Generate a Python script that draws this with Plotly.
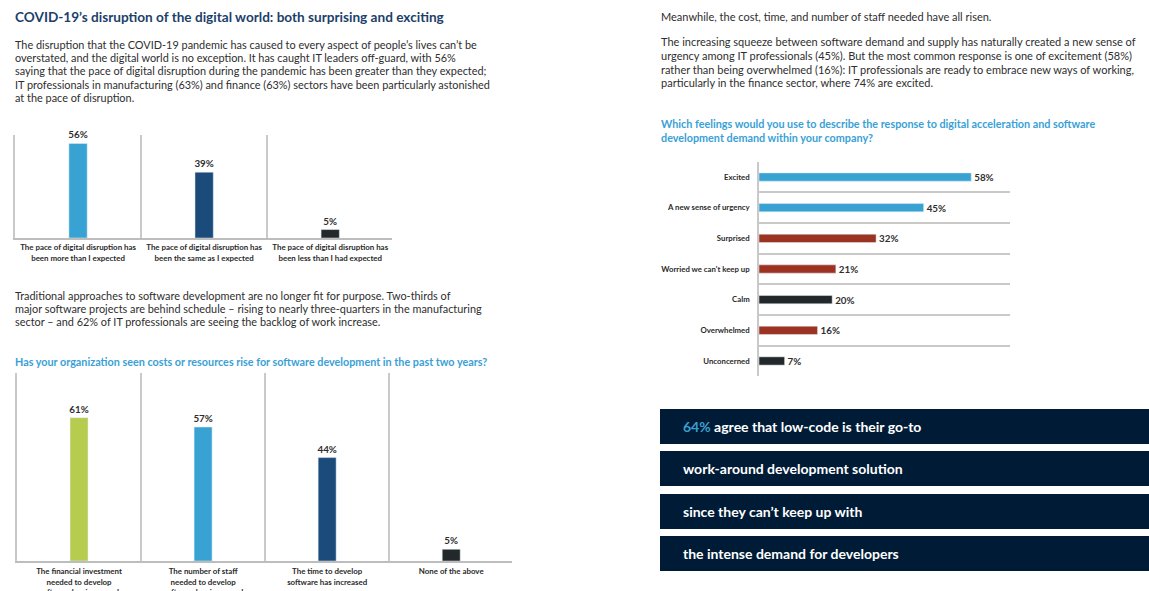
import plotly.graph_objects as go

W, H = 1149, 591
def X(px): return px / W
def Y(py): return 1 - py / H

# ---------- data ----------
pace_labels = ["The pace of digital disruption has<br>been more than I expected",
               "The pace of digital disruption has<br>been the same as I expected",
               "The pace of digital disruption has<br>been less than I had expected"]
pace_values = [56, 39, 5]
pace_colors = ["#38A3D3", "#1A4B7A", "#23282B"]

cost_labels = ["The financial investment<br>needed to develop<br>software has increased",
               "The number of staff<br>needed to develop<br>software has increased",
               "The time to develop<br>software has increased",
               "None of the above"]
cost_values = [61, 57, 44, 5]
cost_colors = ["#B6CC4E", "#38A3D3", "#1A4B7A", "#23282B"]

feel_labels = ["Excited", "A new sense of urgency", "Surprised", "Worried we can't keep up",
               "Calm", "Overwhelmed", "Unconcerned"]
feel_values = [58, 45, 32, 21, 20, 16, 7]
feel_colors = ["#38A3D3", "#38A3D3", "#9B3222", "#9B3222", "#23282B", "#9B3222", "#23282B"]

FONT = "Lato"
TXT = "#2E2E2E"
GRID = "#C9C9C9"

fig = go.Figure()

fig.add_trace(go.Bar(x=pace_labels, y=pace_values, marker_color=pace_colors, width=0.145,
                     text=[f"{v}%" for v in pace_values], textposition="outside",
                     constraintext="none",
                     textfont=dict(family=FONT, size=9.8, color=TXT, weight=700),
                     cliponaxis=False, xaxis="x", yaxis="y", hoverinfo="skip"))
fig.add_trace(go.Bar(x=cost_labels, y=cost_values, marker_color=cost_colors, width=0.145,
                     text=[f"{v}%" for v in cost_values], textposition="outside",
                     constraintext="none",
                     textfont=dict(family=FONT, size=9.8, color=TXT, weight=700),
                     cliponaxis=False, xaxis="x2", yaxis="y2", hoverinfo="skip"))
fig.add_trace(go.Bar(y=feel_labels, x=feel_values, orientation="h", marker_color=feel_colors,
                     width=0.27, text=[f"{v}%" for v in feel_values], textposition="outside",
                     constraintext="none",
                     textfont=dict(family=FONT, size=9.8, color=TXT, weight=700),
                     cliponaxis=False, xaxis="x3", yaxis="y3", hoverinfo="skip"))

tickfont = dict(family=FONT, size=7.9, color="#2A2A2A", weight=700)

common_x = dict(type="category", tickson="boundaries", showgrid=True, gridcolor=GRID, gridwidth=1.5,
                ticks="", showline=True, linecolor="#BDBDBD", linewidth=2, tickfont=tickfont,
                fixedrange=True, automargin=False)
common_y = dict(showgrid=False, showticklabels=False, zeroline=False, showline=True,
                linecolor=GRID, linewidth=1.5, fixedrange=True, automargin=False)

fig.update_layout(
    width=W, height=H, margin=dict(l=0, r=0, t=0, b=0, autoexpand=False),
    paper_bgcolor="white", plot_bgcolor="white", showlegend=False,
    xaxis=dict(common_x, domain=[X(15), X(392)], range=[-0.5, 2.49], anchor="y",
               ticklabelstandoff=1),
    yaxis=dict(common_y, domain=[Y(238), Y(135)], range=[0, 61], anchor="x"),
    xaxis2=dict(common_x, domain=[X(17), X(512)], range=[-0.5, 3.49], anchor="y2",
                ticklabelstandoff=2),
    yaxis2=dict(common_y, domain=[Y(561), Y(373)], range=[0, 80], anchor="x2"),
    xaxis3=dict(domain=[X(759), X(1010)], range=[0, 68.6], anchor="y3", showgrid=False,
                showticklabels=False, zeroline=False, showline=False, fixedrange=True,
                automargin=False),
    yaxis3=dict(type="category", tickson="boundaries", domain=[Y(376), Y(162)],
                range=[6.49, -0.49], anchor="x3", showgrid=True, gridcolor=GRID, gridwidth=1.5,
                ticks="", showline=True, linecolor=GRID, linewidth=1.5,
                tickfont=dict(family=FONT, size=7.8, color="#2A2A2A", weight=700),
                ticklabelstandoff=6, fixedrange=True, automargin=False),
)

ann = []
def text_lines(lines, x, y0, dy, size, color, weight=400):
    for i, t in enumerate(lines):
        ann.append(dict(text=t, x=X(x), y=Y(y0 + i * dy), xref="paper", yref="paper",
                        xanchor="left", yanchor="middle", showarrow=False,
                        font=dict(family=FONT, size=size, color=color, weight=weight)))

text_lines(["COVID-19’s disruption of the digital world: both surprising and exciting"],
           13, 17, 0, 13.6, "#1C3F6B", 700)
text_lines(["The disruption that the COVID-19 pandemic has caused to every aspect of people’s lives can’t be",
            "overstated, and the digital world is no exception. It has caught IT leaders off-guard, with 56%",
            "saying that the pace of digital disruption during the pandemic has been greater than they expected;",
            "IT professionals in manufacturing (63%) and finance (63%) sectors have been particularly astonished",
            "at the pace of disruption."], 13, 44.5, 13.2, 10.9, TXT)
text_lines(["Traditional approaches to software development are no longer fit for purpose. Two-thirds of",
            "major software projects are behind schedule – rising to nearly three-quarters in the manufacturing",
            "sector – and 62% of IT professionals are seeing the backlog of work increase."],
           13, 295, 13.3, 10.9, TXT)
text_lines(["Has your organization seen costs or resources rise for software development in the past two years?"],
           13, 361, 0, 10.8, "#3A9FD6", 700)
text_lines(["Meanwhile, the cost, time, and number of staff needed have all risen."],
           659, 16, 0, 11, TXT)
text_lines(["The increasing squeeze between software demand and supply has naturally created a new sense of",
            "urgency among IT professionals (45%). But the most common response is one of excitement (58%)",
            "rather than being overwhelmed (16%): IT professionals are ready to embrace new ways of working,",
            "particularly in the finance sector, where 74% are excited."],
           659, 42, 13.5, 11, TXT)
text_lines(["Which feelings would you use to describe the response to digital acceleration and software",
            "development demand within your company?"], 659, 123.5, 13.7, 10.8, "#3A9FD6", 700)

# dark callout boxes
boxes = [(409, 444), (451, 486), (494, 529), (536, 571)]
box_text = ["<span style='color:#3AA0D0'>64%</span> agree that low-code is their go-to",
            "work-around development solution",
            "since they can’t keep up with",
            "the intense demand for developers"]
shapes = []
for (t, b), s in zip(boxes, box_text):
    shapes.append(dict(type="rect", xref="paper", yref="paper", x0=X(660), x1=X(1149),
                       y0=Y(b), y1=Y(t), fillcolor="#001B36", line=dict(width=0), layer="below"))
    ann.append(dict(text=s, x=X(681), y=Y((t + b) / 2), xref="paper", yref="paper",
                    xanchor="left", yanchor="middle", showarrow=False,
                    font=dict(family=FONT, size=14, color="white", weight=700)))

fig.update_layout(annotations=ann, shapes=shapes)

post = "document.body.style.margin='0';document.body.style.overflow='hidden';"
fig.write_html("out.html", config={"displayModeBar": False}, post_script=post)
